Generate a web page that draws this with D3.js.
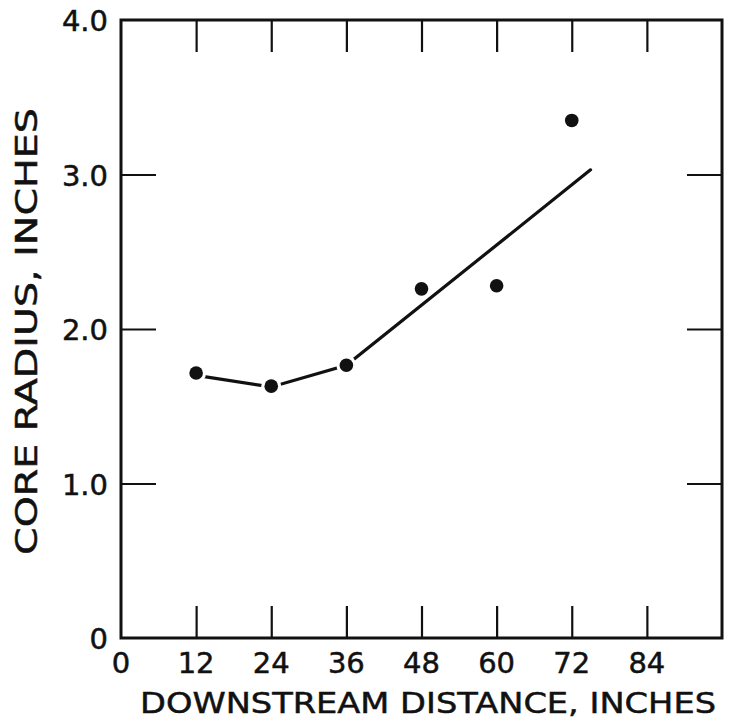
<!DOCTYPE html>
<html>
<head>
<meta charset="utf-8">
<script src="https://cdn.jsdelivr.net/npm/d3@7"></script>
<style>
html,body{margin:0;padding:0;background:#fff;}
svg{display:block;}
text{font-family:"DejaVu Sans",sans-serif;fill:#111;stroke:#111;stroke-width:0.5;}
</style>
</head>
<body>
<svg id="chart" width="729" height="725"></svg>
<script>
// Data
const pointX = [12, 24, 36, 48, 60, 72];
const pointY = [1.715, 1.63, 1.765, 2.26, 2.28, 3.35];
const lineX = [12, 24, 36, 75];
const lineY = [1.70, 1.625, 1.765, 3.03];
const xTicks = [0, 12, 24, 36, 48, 60, 72, 84];
const yTicks = [0, 1, 2, 3, 4];
const yTickLabels = ["0", "1.0", "2.0", "3.0", "4.0"];
const xTitle = "DOWNSTREAM DISTANCE, INCHES";
const yTitle = "CORE RADIUS, INCHES";

const svg = d3.select("#chart");
const L = 121, R = 722, T = 20, B = 638;
const x = d3.scaleLinear().domain([0, 96]).range([L, R]);
const y = d3.scaleLinear().domain([0, 4]).range([B, T]);

// inward ticks
const tickLen = 32;
const axB = d3.axisTop(x).tickValues(xTicks.slice(1)).tickSize(tickLen).tickFormat("");
const axT = d3.axisBottom(x).tickValues(xTicks.slice(1)).tickSize(tickLen).tickFormat("");
const axL = d3.axisRight(y).tickValues(yTicks.slice(1, 4)).tickSize(35).tickFormat("");
const axR = d3.axisLeft(y).tickValues(yTicks.slice(1, 4)).tickSize(35).tickFormat("");
[[axB, `translate(0,${B})`], [axT, `translate(0,${T})`], [axL, `translate(${L},0)`], [axR, `translate(${R},0)`]].forEach(([a, t]) => {
  const g = svg.append("g").attr("transform", t).call(a);
  g.select(".domain").remove();
  g.selectAll("line").attr("stroke", "#111").attr("stroke-width", 2.2);
});

// frame
svg.append("rect").attr("x", x(0)).attr("y", y(4)).attr("width", x(96) - x(0)).attr("height", y(0) - y(4))
  .attr("fill", "none").attr("stroke", "#111").attr("stroke-width", 3);

// tick labels
svg.append("g").selectAll("text").data(xTicks).join("text")
  .attr("x", d => x(d)).attr("y", 673).attr("text-anchor", "middle")
  .attr("font-size", 29).text(d => d);
svg.append("g").selectAll("text").data(yTicks).join("text")
  .attr("x", 108).attr("y", d => y(d) + 11).attr("text-anchor", "end")
  .attr("font-size", 29).text((d, i) => yTickLabels[i]);

// titles
svg.append("text").attr("x", 140).attr("y", 713).attr("font-size", 29)
  .attr("textLength", 576).attr("lengthAdjust", "spacingAndGlyphs").text(xTitle);
svg.append("text").attr("transform", "translate(37,555) rotate(-90)").attr("font-size", 30)
  .attr("textLength", 447).attr("lengthAdjust", "spacingAndGlyphs").text(yTitle);

// line
const line = d3.line().x((d, i) => x(lineX[i])).y(d => y(d));
svg.append("path").datum(lineY).attr("d", line).attr("fill", "none")
  .attr("stroke", "#111").attr("stroke-width", 3.2).attr("stroke-linecap", "round");

// points with white halo gap
svg.append("g").selectAll("circle").data(pointY).join("circle")
  .attr("cx", (d, i) => x(pointX[i])).attr("cy", d => y(d)).attr("r", 10).attr("fill", "#fff");
svg.append("g").selectAll("circle").data(pointY).join("circle")
  .attr("cx", (d, i) => x(pointX[i])).attr("cy", d => y(d)).attr("r", 6.8).attr("fill", "#111");
</script>
</body>
</html>
